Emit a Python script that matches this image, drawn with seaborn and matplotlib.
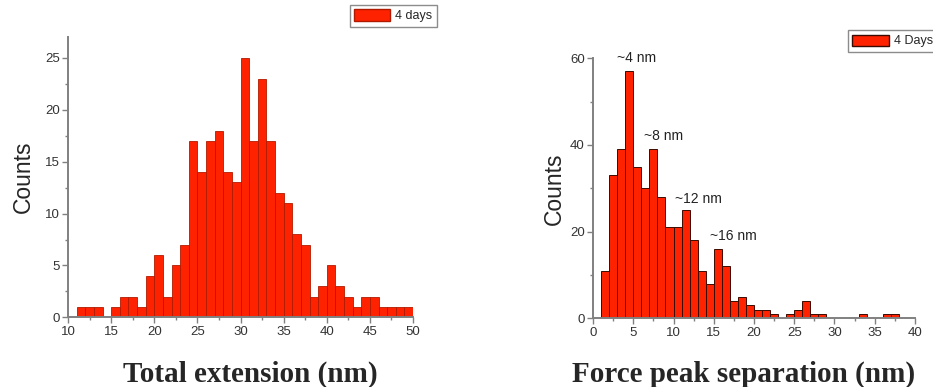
import numpy as np
import pandas as pd
import matplotlib
matplotlib.use("Agg")
import matplotlib.pyplot as plt
import seaborn as sns
from matplotlib.patches import Patch
from matplotlib.ticker import MultipleLocator

# Left histogram: total extension, 1 nm bins starting at 11 nm
ext_left_edges = list(range(11, 50))
ext_counts = [1, 1, 1, 0, 1, 2, 2, 1, 4, 6, 2, 5, 7, 17, 14, 17, 18, 14, 13, 25,
              17, 23, 17, 12, 11, 8, 7, 2, 3, 5, 3, 2, 1, 2, 2, 1, 1, 1, 1]

# Right histogram: force peak separation, 1 nm bins starting at 1 nm
sep_left_edges = list(range(1, 38))
sep_counts = [11, 33, 39, 57, 35, 30, 39, 28, 21, 21, 25, 18, 11, 8, 16, 12, 4, 5, 3, 2,
              2, 1, 0, 1, 2, 4, 1, 1, 0, 0, 0, 0, 1, 0, 0, 1, 1]

peak_labels = ["~4 nm", "~8 nm", "~12 nm", "~16 nm"]
peak_x = [5.4, 8.8, 13.1, 17.4]
peak_y = [60, 42, 27.5, 19]

bar_red = "#ff2200"
axis_grey = "#808080"

sns.set_style("ticks")
plt.rcParams["font.family"] = ["Liberation Sans", "DejaVu Sans"]

df_ext = pd.DataFrame({"x": np.array(ext_left_edges) + 0.5, "n": ext_counts})
df_sep = pd.DataFrame({"x": np.array(sep_left_edges) + 0.5, "n": sep_counts})

fig = plt.figure(figsize=(9.33, 3.87), dpi=100)
ax1 = fig.add_axes([0.0729, 0.180, 0.3698, 0.724])
ax2 = fig.add_axes([0.6356, 0.1775, 0.3451, 0.672])

sns.histplot(data=df_ext, x="x", weights="n", binwidth=1, binrange=(11, 50), ax=ax1,
             color=bar_red, alpha=1, edgecolor="#b01a00", linewidth=0.6)
sns.histplot(data=df_sep, x="x", weights="n", binwidth=1, binrange=(1, 38), ax=ax2,
             color=bar_red, alpha=1, edgecolor="#3a0a00", linewidth=0.7)

ax1.set_xlim(10, 50)
ax1.set_ylim(0, 27)
ax1.xaxis.set_major_locator(MultipleLocator(5))
ax1.xaxis.set_minor_locator(MultipleLocator(2.5))
ax1.yaxis.set_major_locator(MultipleLocator(5))
ax1.yaxis.set_minor_locator(MultipleLocator(2.5))

ax2.set_xlim(0, 40)
ax2.set_ylim(0, 60)
ax2.xaxis.set_major_locator(MultipleLocator(5))
ax2.xaxis.set_minor_locator(MultipleLocator(2.5))
ax2.yaxis.set_major_locator(MultipleLocator(20))
ax2.yaxis.set_minor_locator(MultipleLocator(10))

for ax in (ax1, ax2):
    sns.despine(ax=ax)
    for side in ("left", "bottom"):
        ax.spines[side].set_color(axis_grey)
        ax.spines[side].set_linewidth(1.4)
    ax.tick_params(which="major", length=4, width=1, color=axis_grey,
                   labelsize=9.5, labelcolor="#333333", pad=2)
    ax.tick_params(which="minor", length=2.5, width=1, color=axis_grey)
    ax.set_xlabel("")
ax1.set_ylabel("Counts", fontsize=16.5, labelpad=7)
ax2.set_ylabel("Counts", fontsize=16.5, labelpad=3)

fig.text(0.268, 0.014, "Total extension (nm)", ha="center", va="baseline",
         fontsize=21, fontweight="bold", family="Liberation Serif")
fig.text(0.797, 0.014, "Force peak separation (nm)", ha="center", va="baseline",
         fontsize=21, fontweight="bold", family="Liberation Serif")

for lab, px, py in zip(peak_labels, peak_x, peak_y):
    ax2.text(px, py, lab, ha="center", va="center", fontsize=10, color="#222222")

leg_kw = dict(fontsize=9, frameon=True, fancybox=False, handlelength=2.9,
              handleheight=1.0, borderpad=0.35, handletextpad=0.4, borderaxespad=0)
leg1 = fig.legend(handles=[Patch(facecolor=bar_red, edgecolor="#b01a00", label="4 days")],
                  loc="upper right", bbox_to_anchor=(0.468, 0.987), **leg_kw)
leg2 = fig.legend(handles=[Patch(facecolor=bar_red, edgecolor="#3a0a00", label="4 Days")],
                  loc="upper left", bbox_to_anchor=(0.909, 0.922), **leg_kw)
for leg in (leg1, leg2):
    leg.get_frame().set_edgecolor("#707070")
    leg.get_frame().set_linewidth(1.0)

fig.savefig("out.png", dpi=100)
